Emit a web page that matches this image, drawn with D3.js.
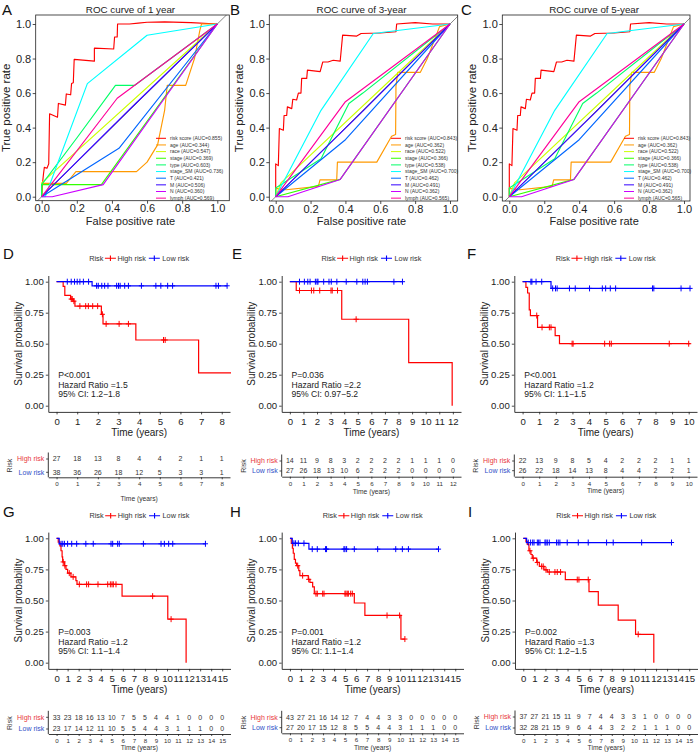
<!DOCTYPE html>
<html><head><meta charset="utf-8">
<script src="https://cdn.jsdelivr.net/npm/d3@7"></script>
<style>
body{margin:0;background:#fff}
svg{display:block}
text{font-family:"Liberation Sans",Arial,Helvetica,sans-serif}
</style>
</head><body>
<svg id="c" width="700" height="754"></svg>
<script>
// ---------------- ROC data ----------------
const rocVars = ["risk score","age","race","stage","type","stage_SM","T","M","N","lymph"];
const rocColors = ["#FF0000","#FF9900","#CCFF00","#33FF00","#00FF66","#00FFFF","#0066FF","#3300FF","#CC00FF","#FF0099"];
const aucA = ["0.855","0.344","0.547","0.369","0.603","0.736","0.421","0.506","0.360","0.569"];
const aucB = ["0.843","0.362","0.522","0.366","0.538","0.700","0.462","0.491","0.362","0.565"];
const aucC = ["0.843","0.362","0.522","0.366","0.538","0.700","0.462","0.491","0.362","0.565"];
const rocTitles = ["ROC curve of 1 year","ROC curve of 3-year","ROC curve of 5-year"];
const rocTicks = [0,0.2,0.4,0.6,0.8,1.0];

const rocCurvesA = [
  [[0,0],[0.005,0.08],[0.01,0.13],[0.015,0.17],[0.03,0.165],[0.04,0.19],[0.045,0.48],[0.09,0.46],[0.095,0.54],[0.135,0.53],[0.14,0.595],[0.165,0.59],[0.17,0.655],[0.18,0.66],[0.185,0.795],[0.3,0.785],[0.3,0.86],[0.41,0.855],[0.415,0.925],[0.43,0.925],[0.432,1.0],[0.5,1.0],[0.55,1.005],[0.6,1.01],[0.7,1.012],[0.85,1.008],[1,1]],
  [[0,0],[0,0.077],[0.14,0.077],[0.195,0.145],[0.54,0.145],[0.6,0.2],[0.66,0.3],[0.7,0.5],[0.715,0.645],[0.82,0.645],[0.87,0.8],[0.9,0.96],[0.91,1],[1,1]],
  [[0,0],[0,0.08],[1,1]],
  [[0,0],[0,0.07],[0.34,0.07],[1,1]],
  [[0,0],[0,0.07],[0.2,0.34],[0.42,0.645],[0.53,0.645],[1,1]],
  [[0,0],[0.02,0],[0.26,0.655],[0.6,0.935],[1,1]],
  [[0,0],[0.44,0.28],[1,1]],
  [[0,0],[0.5,0.505],[1,1]],
  [[0,0],[0.06,0],[0.35,0.07],[1,1]],
  [[0,0],[0.43,0.57],[1,1]]
];
const rocCurvesB = [
  [[0,0],[0,0.19],[0.015,0.18],[0.021,0.395],[0.044,0.385],[0.048,0.47],[0.063,0.47],[0.067,0.52],[0.092,0.51],[0.098,0.564],[0.12,0.56],[0.13,0.6],[0.145,0.6],[0.149,0.685],[0.178,0.685],[0.182,0.733],[0.255,0.724],[0.27,0.78],[0.3,0.78],[0.33,0.79],[0.37,0.785],[0.384,0.936],[0.465,0.93],[0.49,0.945],[0.6,0.948],[0.69,0.955],[0.694,1.0],[0.8,1.008],[0.9,1.0],[1,1]],
  [[0,0],[0,0.048],[0.06,0.04],[0.245,0.06],[0.254,0.097],[0.35,0.097],[0.354,0.2],[0.58,0.2],[0.665,0.35],[0.688,0.36],[0.69,0.64],[0.7,0.72],[0.83,0.72],[0.87,0.8],[0.94,0.985],[1,1]],
  [[0,0],[0.03,0.08],[1,1]],
  [[0,0],[0.37,0.1],[1,1]],
  [[0,0],[0,0.05],[0.26,0.22],[0.42,0.54],[0.5,0.6],[1,1]],
  [[0,0],[0.26,0.5],[0.56,0.945],[1,1]],
  [[0,0],[0.4,0.33],[1,1]],
  [[0,0],[0.5,0.495],[1,1]],
  [[0,0],[0.07,0],[0.37,0.1],[1,1]],
  [[0,0],[0.4,0.55],[1,1]]
];
const rocCurvesC = rocCurvesB;

// ---------------- KM data ----------------
const kmColors = {high:"#FF0000", low:"#0000FF"};
const tmaxD = 8, tmaxE = 12, tmaxF = 10, tmaxG = 15, tmaxH = 15, tmaxI = 15;

const highD_steps = [[0.32,0.963],[0.40,0.889],[0.68,0.86],[0.81,0.843],[0.89,0.803],[2.17,0.737],[2.25,0.66],[3.84,0.53],[6.88,0.265]];
const highD_cens = [0.71,0.76,0.84,1.13,1.41,1.54,1.75,1.99,2.22,2.40,3.03,3.48,5.18,5.26];
const highD_end = 8.45;
const lowD_steps = [[1.72,0.967]];
const lowD_cens = [0.52,0.71,0.87,1.0,1.13,1.3,1.55,1.94,2.02,2.19,2.33,2.49,2.91,3.0,3.08,3.3,3.48,4.11,4.81,5.05,5.38,5.62,7.72,7.84,8.26];
const lowD_end = 8.26;
const riskHighD = [27,18,13,8,4,4,2,1,1];
const riskLowD = [38,36,26,18,12,5,3,3,1];
const statD = ["P<0.001","Hazard Ratio =1.5","95% CI: 1.2\u22121.8"];

const highE_steps = [[0.47,0.929],[3.82,0.697],[8.75,0.348],[11.95,0]];
const highE_cens = [0.71,1.59,1.76,2.2,3.03,3.12,3.51,4.88];
const highE_end = 11.95;
const lowE_steps = [];
const lowE_cens = [0.71,1.07,1.32,1.49,1.88,2.0,2.07,2.49,2.88,3.05,3.46,4.15,4.93,5.37,5.54,5.71,7.66,8.29];
const lowE_end = 8.29;
const riskHighE = [14,11,9,8,3,2,2,2,2,1,1,1,0];
const riskLowE = [27,26,18,13,10,6,2,2,2,0,0,0,0];
const statE = ["P=0.036","Hazard Ratio =2.2","95% CI: 0.97\u22125.2"];

const highF_steps = [[0.2,0.955],[0.3,0.909],[0.4,0.773],[0.47,0.727],[0.9,0.632],[1.96,0.565],[2.22,0.5]];
const highF_cens = [0.85,1.17,1.61,1.71,2.98,3.04,4.94,5.24,5.34,8.83,10.0];
const highF_end = 10.1;
const lowF_steps = [[1.71,0.946]];
const lowF_cens = [0.5,0.56,0.81,1.15,1.81,1.98,2.08,2.82,3.17,4.03,4.8,5.0,5.28,5.6,7.82,7.9,9.54,10.08];
const lowF_end = 10.08;
const riskHighF = [22,13,9,8,5,4,2,2,2,1,1];
const riskLowF = [26,22,18,14,13,8,4,4,2,2,1];
const statF = ["P<0.001","Hazard Ratio =1.2","95% CI: 1.1\u22121.5"];

const highG_steps = [[0.15,0.97],[0.3,0.94],[0.4,0.9],[0.5,0.85],[0.55,0.81],[0.7,0.78],[0.85,0.75],[1.0,0.72],[1.3,0.69],[1.75,0.66],[1.85,0.63],[5.93,0.535],[10.07,0.35],[11.73,0]];
const highG_cens = [0.6,0.75,1.15,1.5,2.06,2.72,2.9,3.75,4.63,4.87,5.02,5.14,5.38,8.7,10.37];
const highG_end = 11.73;
const lowG_steps = [[0.24,0.956]];
const lowG_cens = [0.41,0.56,0.71,1.0,1.37,1.82,2.65,3.32,4.93,5.08,5.53,5.68,7.86,9.46,9.76,10.15,10.52,13.48];
const lowG_end = 13.48;
const riskHighG = [33,23,18,16,13,10,7,5,5,4,4,1,0,0,0,0];
const riskLowG = [23,17,14,12,11,10,5,5,4,4,3,1,1,1,0,0];
const statG = ["P=0.003","Hazard Ratio =1.2","95% CI: 1.1\u22121.4"];

const highH_steps = [[0.12,0.96],[0.22,0.92],[0.3,0.88],[0.39,0.83],[0.5,0.8],[0.6,0.78],[0.8,0.74],[0.9,0.70],[1.66,0.67],[1.81,0.645],[2.06,0.61],[2.21,0.555],[5.84,0.48],[6.8,0.38],[10.07,0.19]];
const highH_cens = [0.7,1.15,1.7,2.36,2.48,2.97,3.09,4.99,5.08,5.2,5.3,5.51,5.66,8.81,9.95,10.43];
const highH_end = 10.43;
const lowH_steps = [[0.21,0.96],[1.72,0.913]];
const lowH_cens = [0.36,0.51,0.76,1.27,2.02,2.48,3.23,3.32,4.9,4.99,5.14,5.84,7.96,9.6,10.2,10.75,13.48];
const lowH_end = 13.48;
const riskHighH = [43,27,21,16,14,12,7,4,4,3,3,0,0,0,0,0];
const riskLowH = [27,20,17,15,12,8,5,5,4,4,3,1,1,1,0,0];
const statH = ["P=0.001","Hazard Ratio =1.2","95% CI: 1.1\u22121.4"];

const highI_steps = [[0.24,0.975],[0.36,0.952],[0.51,0.9],[0.69,0.87],[0.81,0.84],[1.21,0.806],[1.45,0.774],[1.87,0.747],[2.17,0.729],[3.8,0.668],[5.94,0.572],[6.78,0.463],[8.58,0.343],[10.15,0.228],[11.8,0]];
const highI_cens = [0.6,0.9,1.27,1.66,1.8,2.05,2.35,2.86,3.07,3.37,4.88,5.03,5.87,10.39];
const highI_end = 11.8;
const lowI_steps = [[0.3,0.966]];
const lowI_cens = [0.45,0.66,0.85,0.97,1.27,1.39,1.51,1.96,2.05,2.17,2.35,3.01,3.16,3.31,3.97,4.97,5.87,7.53,8.13,10.7,13.4];
const lowI_end = 13.4;
const riskHighI = [37,27,21,15,11,9,7,4,4,3,3,1,0,0,0,0];
const riskLowI = [32,28,21,15,9,6,4,4,3,2,2,1,1,1,0,0];
const statI = ["P=0.002","Hazard Ratio =1.3","95% CI: 1.2\u22121.5"];

const survTicks = [0,0.25,0.5,0.75,1];
const groupLabels = ["High risk","Low risk"];

// ---------------- drawing ----------------
const svg = d3.select("#c");
const FONT = '"Liberation Sans",Arial,Helvetica,sans-serif';

function letter(s, x, y) {
  svg.append("text").attr("x", x).attr("y", y).attr("font-size", 15).attr("fill", "#111").text(s);
}

function drawROC(L, curves, aucs, title) {
  const g = svg.append("g");
  const x = d3.scaleLinear().domain([0,1]).range([L.x0, L.x1]);
  const y = d3.scaleLinear().domain([0,1]).range([L.y0, L.y1]);
  const [bl, br, bt, bb] = L.box;
  const cid = "clip" + L.letter;
  svg.append("clipPath").attr("id", cid).append("rect")
    .attr("x", bl).attr("y", bt).attr("width", br - bl).attr("height", bb - bt);
  const plot = g.append("g").attr("clip-path", `url(#${cid})`);
  plot.append("line").attr("x1", x(-1)).attr("y1", y(-1)).attr("x2", x(2)).attr("y2", y(2))
    .attr("stroke", "#777").attr("stroke-width", 0.9);
  const line = d3.line().x(d => x(d[0])).y(d => y(d[1]));
  curves.forEach((c, i) => {
    plot.append("path").attr("d", line(c)).attr("fill", "none")
      .attr("stroke", rocColors[i]).attr("stroke-width", 1.15).attr("stroke-linejoin", "round");
  });
  g.append("rect").attr("x", bl).attr("y", bt).attr("width", br - bl).attr("height", bb - bt)
    .attr("fill", "none").attr("stroke", "#222").attr("stroke-width", 0.8);

  const ax = g.append("g").attr("transform", `translate(0,${bb})`)
    .call(d3.axisBottom(x).tickValues(rocTicks).tickFormat(d3.format(".1f")).tickSize(3).tickPadding(1));
  const ay = g.append("g").attr("transform", `translate(${bl},0)`)
    .call(d3.axisLeft(y).tickValues(rocTicks).tickFormat(d3.format(".1f")).tickSize(3).tickPadding(1.5));
  [ax, ay].forEach(a => {
    a.select(".domain").remove();
    a.selectAll("text").attr("font-size", 11).attr("font-family", FONT).attr("fill", "#222");
    a.selectAll("line").attr("stroke", "#222").attr("stroke-width", 0.8);
  });
  const cx = (bl + br) / 2 - 2;
  g.append("text").attr("x", cx).attr("y", 9.3).attr("dy", "0.35em").attr("text-anchor", "middle")
    .attr("font-size", 9.8).attr("fill", "#222").text(title);
  g.append("text").attr("x", (bl + br) / 2 - 2).attr("y", bb + 20).attr("dy", "0.35em").attr("text-anchor", "middle")
    .attr("font-size", 11).attr("fill", "#222").text("False positive rate");
  g.append("text").attr("transform", `translate(${bl - 30},${(bt + bb) / 2}) rotate(-90)`)
    .attr("dy", "0.35em").attr("text-anchor", "middle")
    .attr("font-size", 11.5).attr("fill", "#222").text("True positive rate");
  // legend
  rocVars.forEach((v, i) => {
    const yy = L.legY + i * 6.65;
    g.append("line").attr("x1", L.legX).attr("x2", L.legX + 10).attr("y1", yy).attr("y2", yy)
      .attr("stroke", rocColors[i]).attr("stroke-width", 1);
    g.append("text").attr("x", L.legX + 14).attr("y", yy).attr("dy", "0.35em")
      .attr("font-size", 5).attr("fill", "#333").text(`${v} (AUC=${aucs[i]})`);
  });
  letter(L.letter, L.lx, L.ly);
}

function survAt(steps, t) {
  let s = 1;
  for (const [tt, ss] of steps) if (tt <= t) s = ss;
  return s;
}

function drawKM(L, tmax, groups, stats, riskH, riskL) {
  const g = svg.append("g");
  const x = d3.scaleLinear().domain([-0.05 * tmax, 1.05 * tmax]).range([L.axisX, L.right]);
  const y = d3.scaleLinear().domain([-0.05, 1.05]).range([L.bottom, L.top]);
  const line = d3.line().x(d => x(d[0])).y(d => y(d[1])).curve(d3.curveStepAfter);

  groups.forEach(gr => {
    const last = gr.steps.length ? gr.steps[gr.steps.length - 1][1] : 1;
    const pts = [[0, 1], ...gr.steps, [gr.end, last]];
    g.append("path").attr("d", line(pts)).attr("fill", "none")
      .attr("stroke", gr.color).attr("stroke-width", 1.2);
    const cp = gr.cens.map(t => {
      const px = x(t), py = y(survAt(gr.steps, t));
      return `M${px - 2.6},${py}h5.2M${px},${py - 3}v6`;
    }).join("");
    g.append("path").attr("d", cp).attr("fill", "none").attr("stroke", gr.color).attr("stroke-width", 1);
  });

  const ax = g.append("g").attr("transform", `translate(0,${L.bottom})`)
    .call(d3.axisBottom(x).tickValues(d3.range(0, tmax + 1)).tickFormat(d3.format("d")).tickSize(2.5).tickSizeOuter(0).tickPadding(3.6));
  const ay = g.append("g").attr("transform", `translate(${L.axisX},0)`)
    .call(d3.axisLeft(y).tickValues(survTicks).tickFormat(d3.format(".2f")).tickSize(2.5).tickSizeOuter(0).tickPadding(2));
  [ax, ay].forEach(a => {
    a.select(".domain").attr("stroke", "#222").attr("stroke-width", 0.9);
    a.selectAll("text").attr("font-size", 9.6).attr("font-family", FONT).attr("fill", "#222");
    a.selectAll("line").attr("stroke", "#222").attr("stroke-width", 0.8);
  });
  g.append("text").attr("x", (L.axisX + L.right) / 2).attr("y", L.bottom + 21).attr("dy", "0.35em")
    .attr("text-anchor", "middle").attr("font-size", 10).attr("fill", "#222").text("Time (years)");
  g.append("text").attr("transform", `translate(${L.axisX - 30},${(L.top + L.bottom) / 2}) rotate(-90)`)
    .attr("dy", "0.35em").attr("text-anchor", "middle").attr("font-size", 10).attr("fill", "#222")
    .text("Survival probability");

  stats.forEach((s, i) => {
    g.append("text").attr("x", x(0) + 1.6).attr("y", y(0.25) + 0.5 + i * 9.6).attr("dy", "0.35em")
      .attr("font-size", 8.6).attr("fill", "#222").text(s);
  });

  // legend
  const lg = g.append("g");
  let cur = 0;
  const addText = (s, col) => {
    const t = lg.append("text").attr("x", cur).attr("y", 0).attr("dy", "0.35em")
      .attr("font-size", 7.3).attr("fill", col || "#333").text(s);
    cur += t.node().getComputedTextLength();
  };
  const addKey = col => {
    lg.append("path").attr("d", `M${cur},0h11M${cur + 5.5},-2.8v5.6`).attr("stroke", col)
      .attr("stroke-width", 1.1).attr("fill", "none");
    cur += 11;
  };
  addText("Risk"); cur += 1.5;
  addKey(kmColors.high); cur += 1.5;
  addText(groupLabels[0]); cur += 3;
  addKey(kmColors.low); cur += 2.5;
  addText(groupLabels[1]);
  lg.attr("transform", `translate(${(L.axisX + L.right) / 2 - cur / 2},${L.legendY})`);

  // risk table
  const T = L.table;
  const tg = g.append("g");
  const rows = [[riskH, T.r1, "#E8383D", groupLabels[0]], [riskL, T.r2, "#3050C8", groupLabels[1]]];
  rows.forEach(([vals, ry, tcol, lab]) => {
    vals.forEach((v, i) => {
      tg.append("text").attr("x", x(i)).attr("y", ry).attr("dy", "0.35em").attr("text-anchor", "middle")
        .attr("font-size", 7).attr("fill", "#333").text(v);
    });
    tg.append("text").attr("x", L.axisX - 4).attr("y", ry).attr("dy", "0.35em").attr("text-anchor", "end")
      .attr("font-size", 7).attr("fill", tcol).text(lab);
    tg.append("line").attr("x1", L.axisX - 2.2).attr("x2", L.axisX).attr("y1", ry).attr("y2", ry)
      .attr("stroke", "#222").attr("stroke-width", 0.8);
  });
  tg.append("line").attr("x1", L.axisX).attr("x2", L.axisX).attr("y1", T.r1 - 6.5).attr("y2", T.axis)
    .attr("stroke", "#222").attr("stroke-width", 0.9);
  const tax = tg.append("g").attr("transform", `translate(0,${T.axis})`)
    .call(d3.axisBottom(x).tickValues(d3.range(0, tmax + 1)).tickFormat(d3.format("d")).tickSize(2).tickSizeOuter(0).tickPadding(2.5));
  tax.select(".domain").attr("stroke", "#222").attr("stroke-width", 0.9);
  tax.selectAll("text").attr("font-size", 6.2).attr("font-family", FONT).attr("fill", "#333");
  tax.selectAll("line").attr("stroke", "#222").attr("stroke-width", 0.8);
  tg.append("text").attr("x", (L.axisX + L.right) / 2).attr("y", T.title).attr("dy", "0.35em")
    .attr("text-anchor", "middle").attr("font-size", 6.7).attr("fill", "#333").text("Time (years)");
  tg.append("text").attr("transform", `translate(${L.axisX - 38.5},${(T.r1 + T.r2) / 2}) rotate(-90)`)
    .attr("dy", "0.35em").attr("text-anchor", "middle").attr("font-size", 7).attr("fill", "#333").text("Risk");

  letter(L.letter, L.lx, L.ly);
}

// ---------- layout ----------
drawROC({letter:"A", lx:2, ly:15, box:[35.7,229.3,15,200.7], x0:41.7, x1:217.3, y0:196.7, y1:24, legX:156, legY:138.3},
  rocCurvesA, aucA, rocTitles[0]);
drawROC({letter:"B", lx:230, ly:15, box:[269.3,457.7,15,201], x0:275.7, x1:450, y0:196.7, y1:24, legX:391, legY:138.3},
  rocCurvesB, aucB, rocTitles[1]);
drawROC({letter:"C", lx:461, ly:15, box:[502.3,690,15,201], x0:509.3, x1:684, y0:196.7, y1:24, legX:624, legY:138.3},
  rocCurvesC, aucC, rocTitles[2]);

const mk = (steps, cens, end, color) => ({steps, cens, end, color});

drawKM({letter:"D", lx:3, ly:258.5, axisX:48.3, right:230, top:275.5, bottom:411.9, legendY:258.3,
  table:{r1:459, r2:472.3, axis:477.3, title:498.3}}, tmaxD,
  [mk(highD_steps, highD_cens, highD_end, kmColors.high), mk(lowD_steps, lowD_cens, lowD_end, kmColors.low)],
  statD, riskHighD, riskLowD);
drawKM({letter:"E", lx:232, ly:258.5, axisX:281.7, right:461, top:275.5, bottom:411.9, legendY:258.3,
  table:{r1:461, r2:471, axis:476.7, title:491.7}}, tmaxE,
  [mk(highE_steps, highE_cens, highE_end, kmColors.high), mk(lowE_steps, lowE_cens, lowE_end, kmColors.low)],
  statE, riskHighE, riskLowE);
drawKM({letter:"F", lx:467, ly:258.5, axisX:514.3, right:697, top:275.5, bottom:411.9, legendY:258.3,
  table:{r1:461, r2:470.7, axis:476.7, title:490.7}}, tmaxF,
  [mk(highF_steps, highF_cens, highF_end, kmColors.high), mk(lowF_steps, lowF_cens, lowF_end, kmColors.low)],
  statF, riskHighF, riskLowF);
drawKM({letter:"G", lx:3, ly:517, axisX:48.3, right:230.5, top:532.1, bottom:668.9, legendY:515.7,
  table:{r1:717.3, r2:729, axis:734, title:747.7}}, tmaxG,
  [mk(highG_steps, highG_cens, highG_end, kmColors.high), mk(lowG_steps, lowG_cens, lowG_end, kmColors.low)],
  statG, riskHighG, riskLowG);
drawKM({letter:"H", lx:230, ly:517, axisX:281.7, right:463.5, top:532.1, bottom:668.9, legendY:515.7,
  table:{r1:717.3, r2:727.7, axis:733.3, title:747.7}}, tmaxH,
  [mk(highH_steps, highH_cens, highH_end, kmColors.high), mk(lowH_steps, lowH_cens, lowH_end, kmColors.low)],
  statH, riskHighH, riskLowH);
drawKM({letter:"I", lx:468, ly:517, axisX:515, right:697.5, top:532.1, bottom:668.9, legendY:515.7,
  table:{r1:717, r2:728, axis:734, title:747.7}}, tmaxI,
  [mk(highI_steps, highI_cens, highI_end, kmColors.high), mk(lowI_steps, lowI_cens, lowI_end, kmColors.low)],
  statI, riskHighI, riskLowI);
</script>
</body></html>
